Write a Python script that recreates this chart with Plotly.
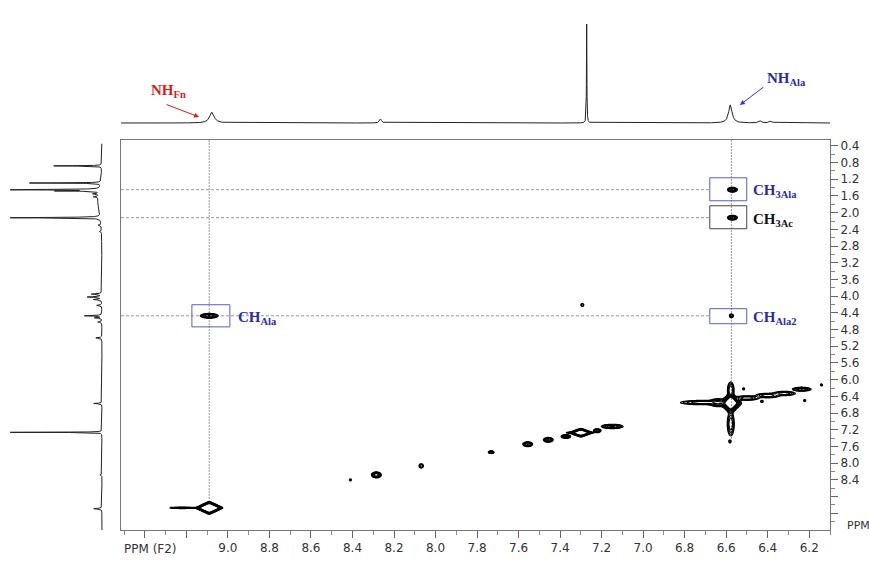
import numpy as np
import plotly.graph_objects as go

# ---------------- axis ticks ----------------
F2_MAJOR = [9.0, 8.8, 8.6, 8.4, 8.2, 8.0, 7.8, 7.6, 7.4, 7.2, 7.0, 6.8, 6.6, 6.4, 6.2]
F2_LABELS = ['9.0', '8.8', '8.6', '8.4', '8.2', '8.0', '7.8', '7.6', '7.4', '7.2',
             '7.0', '6.8', '6.6', '6.4', '6.2']
F2_EXTRA = [9.4, 9.2]          # unlabelled major ticks
F2_MINOR = [9.5, 9.3, 9.1, 8.9, 8.7, 8.5, 8.3, 8.1, 7.9, 7.7, 7.5, 7.3, 7.1, 6.9, 6.7, 6.5, 6.3, 6.1]
F1_MAJOR = [0.4, 0.8, 1.2, 1.6, 2.0, 2.4, 2.8, 3.2, 3.6, 4.0, 4.4, 4.8, 5.2, 5.6, 6.0,
            6.4, 6.8, 7.2, 7.6, 8.0, 8.4]
F1_LABELS = ['0.4', '0.8', '1.2', '1.6', '2.0', '2.4', '2.8', '3.2', '3.6', '4.0', '4.4', '4.8',
             '5.2', '5.6', '6.0', '6.4', '6.8', '7.2', '7.6', '8.0', '8.4']
F1_EXTRA = [8.8, 9.2]          # unlabelled major ticks
F1_MINOR = [0.6, 1.0, 1.4, 1.8, 2.2, 2.6, 3.0, 3.4, 3.8, 4.2, 4.6, 5.0, 5.4, 5.8, 6.2,
            6.6, 7.0, 7.4, 7.8, 8.2, 8.6, 9.0, 9.4]

# ---------------- 1D projections ----------------
TOP_PPM = [9.077, 8.265, 7.272, 6.580, 6.437, 6.385]
TOP_HEIGHT = [11, 4, 99, 18, 2, 2]
TOP_HWHM = [0.013, 0.006, 0.0012, 0.010, 0.008, 0.008]

LEFT_PPM = [0.88, 1.29, 1.45, 1.48, 1.55, 1.62, 1.75, 2.12, 2.30, 2.45, 3.95, 4.02, 4.08, 4.22,
            4.47, 4.52, 4.62, 5.00, 6.57, 7.26, 8.28, 9.09]
LEFT_HEIGHT = [47, 70, 120, 40, 6, 5, 4, 120, 3, 2, 10, 14, 8, 5, 17, 7, 4, 6, 8, 120, 2, 8]
LEFT_HWHM = [0.005, 0.005, 0.006, 0.006, 0.01, 0.01, 0.25, 0.006, 0.01, 0.01, 0.01, 0.01, 0.01,
             0.01, 0.008, 0.008, 0.01, 0.01, 0.008, 0.003, 0.01, 0.01]

# ---------------- 2D peaks (F2, F1, amplitude, widths) ----------------
# gaussian-shaped cross / diagonal peaks and ridges
G_F2 = [9.090, 6.570, 6.570, 6.575, 7.293, 8.410, 8.285, 8.069, 7.732, 7.556, 7.457, 7.372,
        7.221, 7.149, 7.310, 9.220,
        6.716, 6.640, 6.578, 6.578, 6.500, 6.400, 6.320,
        6.236, 6.141, 6.222, 6.516, 6.428, 6.582]
G_F1 = [4.470, 1.450, 2.120, 4.470, 4.210, 8.400, 8.280, 8.065, 7.736, 7.545, 7.440, 7.360,
        7.220, 7.120, 7.270, 9.070,
        6.548, 6.550, 6.244, 7.060, 6.440, 6.380, 6.330,
        6.228, 6.124, 6.500, 6.220, 6.520, 7.480]
G_AMP = [20, 20, 20, 5, 3, 2.5, 30, 5, 10, 20, 20, 15,
         15, 20, 3, 4,
         10, 10, 10, 10, 10, 10, 10,
         20, 2.5, 2.5, 2.5, 2.5, 3]
G_SX = [0.0177, 0.0098, 0.0098, 0.0055, 0.005, 0.004, 0.0092, 0.006, 0.0067, 0.0098, 0.0098, 0.010,
        0.008, 0.0216, 0.045, 0.040,
        0.049, 0.020, 0.0075, 0.0080, 0.027, 0.027, 0.025,
        0.0187, 0.004, 0.004, 0.004, 0.005, 0.004]
G_SY = [0.024, 0.024, 0.024, 0.027, 0.025, 0.020, 0.028, 0.030, 0.017, 0.024, 0.024, 0.020,
        0.020, 0.022, 0.012, 0.012,
        0.025, 0.045, 0.089, 0.134, 0.026, 0.026, 0.024,
        0.020, 0.020, 0.020, 0.020, 0.020, 0.025]

# diamond-shaped (hollow) strong diagonal peaks
S_F2 = [9.090, 7.300, 6.578]
S_F1 = [9.070, 7.270, 6.560]
S_AMP = [1.1e5, 7200, 3160]
S_WX = [0.0054, 0.0060, 0.0060]
S_WY = [0.0125, 0.0108, 0.0297]

# ---------------- annotations ----------------
GUIDE_V_F2 = [9.09, 6.575]
GUIDE_V_END = [9.0, 7.45]
GUIDE_H_F1 = [1.45, 2.12, 4.47]
BOX_F2 = [9.082, 6.590, 6.590, 6.590]
BOX_F1 = [4.47, 1.44, 2.11, 4.48]
BOX_HW = [0.0915, 0.089, 0.089, 0.089]
BOX_HH = [0.265, 0.275, 0.275, 0.18]
BOX_COLOR = ['#5a5ad2', '#5a5ad2', '#444444', '#5a5ad2']
LABEL_TEXT = ['<b>CH<sub>Ala</sub></b>', '<b>CH<sub>3Ala</sub></b>', '<b>CH<sub>3Ac</sub></b>',
              '<b>CH<sub>Ala2</sub></b>']
LABEL_F2 = [8.962, 6.481, 6.481, 6.481]
LABEL_F1 = [4.52, 1.47, 2.17, 4.52]
LABEL_COLOR = ['#2a2aa8', '#2a2aa8', '#111111', '#2a2aa8']

W, H = 869, 563
def px_x(p):
    return p / W
def px_y(p):
    return 1 - p / H

XR = [9.515, 6.10]
YR = [9.60, 0.26]

# ---------- 2D field ----------
xg = np.arange(XR[1], XR[0], 0.004)
yg = np.arange(YR[1], YR[0], 0.02)
X, Y = np.meshgrid(xg, yg)
field = np.zeros_like(X)
for f2, f1, a, sx, sy in zip(G_F2, G_F1, G_AMP, G_SX, G_SY):
    field += a * np.exp(-0.5 * (((X - f2) / sx) ** 2 + ((Y - f1) / sy) ** 2))
def sech(u):
    e = np.exp(-np.abs(u))
    return 2 * e / (1 + e * e)
for f2, f1, a, wx, wy in zip(S_F2, S_F1, S_AMP, S_WX, S_WY):
    field += a * sech((X - f2) / wx) * sech((Y - f1) / wy)
logf = np.log10(field + 1e-9).astype(np.float32)

fig = go.Figure()
fig.add_trace(go.Contour(
    x=xg, y=yg, z=logf, xaxis='x', yaxis='y',
    autocontour=False,
    contours=dict(start=0, end=1.75, size=0.25, coloring='lines'),
    colorscale=[[0, 'black'], [1, 'black']],
    line=dict(width=1.1), showscale=False, hoverinfo='skip'))

# ---------- top projection ----------
xt = np.sort(np.concatenate([np.arange(XR[1], XR[0], 0.0005), TOP_PPM]))
yt = np.zeros_like(xt)
for p, h, w in zip(TOP_PPM, TOP_HEIGHT, TOP_HWHM):
    yt += h / (1 + ((xt - p) / w) ** 2)
fig.add_trace(go.Scatter(x=xt, y=yt, mode='lines', line=dict(color='#222', width=1),
                         xaxis='x2', yaxis='y2', hoverinfo='skip'))

# ---------- left projection ----------
yl = np.sort(np.concatenate([np.arange(0.35, YR[0], 0.001), LEFT_PPM]))
xl = np.zeros_like(yl)
for p, h, w in zip(LEFT_PPM, LEFT_HEIGHT, LEFT_HWHM):
    xl += h / (1 + ((yl - p) / w) ** 2)
xl = np.minimum(xl, 90)
fig.add_trace(go.Scatter(x=xl, y=yl, mode='lines', line=dict(color='#222', width=1),
                         xaxis='x3', yaxis='y3', hoverinfo='skip'))

shapes = []
for xv, ye in zip(GUIDE_V_F2, GUIDE_V_END):
    shapes.append(dict(type='line', xref='x', yref='y', x0=xv, x1=xv, y0=YR[1], y1=ye,
                       line=dict(color='#9a9a9a', width=1, dash='2px,1px'), layer='below'))
for yv in GUIDE_H_F1:
    shapes.append(dict(type='line', xref='x', yref='y', x0=XR[0], x1=6.679, y0=yv, y1=yv,
                       line=dict(color='#9a9a9a', width=1, dash='3px,2px'), layer='below'))
for cx, cy, hw, hh, col in zip(BOX_F2, BOX_F1, BOX_HW, BOX_HH, BOX_COLOR):
    shapes.append(dict(type='rect', xref='x', yref='y', x0=cx + hw, x1=cx - hw,
                       y0=cy - hh, y1=cy + hh, line=dict(color=col, width=1)))

annotations = []
for t, x, y, c in zip(LABEL_TEXT, LABEL_F2, LABEL_F1, LABEL_COLOR):
    annotations.append(dict(text=t, x=x, y=y, xref='x', yref='y', showarrow=False,
                            xanchor='left', yanchor='middle',
                            font=dict(family='Liberation Serif', size=15, color=c)))
# NH labels + arrows on the top projection
annotations.append(dict(text='<b>NH<sub>Fn</sub></b>', x=px_x(149), y=px_y(91), xref='paper',
                        yref='paper', showarrow=False, xanchor='left', yanchor='middle',
                        font=dict(family='Liberation Serif', size=15, color='#e01818')))
annotations.append(dict(text='', x=9.139, y=6, xref='x2', yref='y2', showarrow=True,
                        ax=-34, ay=-13, arrowhead=2, arrowsize=1, arrowwidth=1,
                        arrowcolor='#e01818'))
annotations.append(dict(text='<b>NH<sub>Ala</sub></b>', x=px_x(765), y=px_y(79), xref='paper',
                        yref='paper', showarrow=False, xanchor='left', yanchor='middle',
                        font=dict(family='Liberation Serif', size=15, color='#2a2aa8')))
annotations.append(dict(text='', x=6.534, y=18, xref='x2', yref='y2', showarrow=True,
                        ax=25, ay=-19, arrowhead=2, arrowsize=1, arrowwidth=1,
                        arrowcolor='#3333dd'))
annotations.append(dict(text='PPM (F2)', x=px_x(122), y=px_y(549), xref='paper', yref='paper',
                        showarrow=False, xanchor='left', yanchor='middle',
                        font=dict(family='DejaVu Sans', size=12, color='#333')))
annotations.append(dict(text='PPM', x=px_x(845), y=px_y(525), xref='paper', yref='paper',
                        showarrow=False, xanchor='left', yanchor='middle',
                        font=dict(family='DejaVu Sans', size=11, color='#333')))

axis_common = dict(showgrid=False, zeroline=False)
tick_font = dict(family='DejaVu Sans', size=12, color='#333')
fig.update_layout(
    width=W, height=H, margin=dict(l=0, r=0, t=0, b=0, autoexpand=False),
    paper_bgcolor='white', plot_bgcolor='white', showlegend=False,
    xaxis=dict(domain=[px_x(121), px_x(830)], range=XR, anchor='y',
               tickmode='array', tickvals=F2_MAJOR, ticktext=F2_LABELS,
               ticks='outside', ticklen=7, tickcolor='#666', tickwidth=1,
               minor=dict(tickmode='array', tickvals=F2_MINOR, ticks='outside', ticklen=4,
                          tickcolor='#888'),
               showline=True, linecolor='#777', linewidth=1, mirror=True,
               tickfont=tick_font, **axis_common),
    yaxis=dict(domain=[px_y(530), px_y(140)], range=YR, anchor='x', side='right',
               tickmode='array', tickvals=F1_MAJOR, ticktext=F1_LABELS,
               ticks='outside', ticklen=7, tickcolor='#666', tickwidth=1,
               minor=dict(tickmode='array', tickvals=F1_MINOR, ticks='outside', ticklen=4,
                          tickcolor='#888'),
               showline=True, linecolor='#777', linewidth=1, mirror=True,
               tickfont=tick_font, **axis_common),
    xaxis4=dict(overlaying='x', matches='x', anchor='y', side='bottom',
                tickmode='array', tickvals=F2_EXTRA, ticks='outside', ticklen=7,
                tickcolor='#666', tickwidth=1, showticklabels=False, showline=False,
                **axis_common),
    yaxis4=dict(overlaying='y', matches='y', anchor='x', side='right',
                tickmode='array', tickvals=F1_EXTRA, ticks='outside', ticklen=7,
                tickcolor='#666', tickwidth=1, showticklabels=False, showline=False,
                **axis_common),
    xaxis2=dict(domain=[px_x(121), px_x(830)], matches='x', anchor='y2', visible=False,
                **axis_common),
    yaxis2=dict(domain=[px_y(125), px_y(20)], range=[-2, 103], anchor='x2', visible=False,
                **axis_common),
    xaxis3=dict(domain=[0, px_x(105)], range=[100, -3], anchor='y3', visible=False,
                **axis_common),
    yaxis3=dict(domain=[px_y(530), px_y(140)], matches='y', anchor='x3', visible=False,
                **axis_common),
    shapes=shapes, annotations=annotations,
)
# invisible helper trace so the extra tick axes are drawn
fig.add_trace(go.Scatter(x=[XR[0]], y=[YR[0]], xaxis='x4', yaxis='y4', mode='markers',
                         marker=dict(size=1, opacity=0), hoverinfo='skip'))

fig.write_html('out.html', config={'displayModeBar': False},
               post_script="document.body.style.margin='0px';"
                           "document.body.style.overflow='hidden';")
